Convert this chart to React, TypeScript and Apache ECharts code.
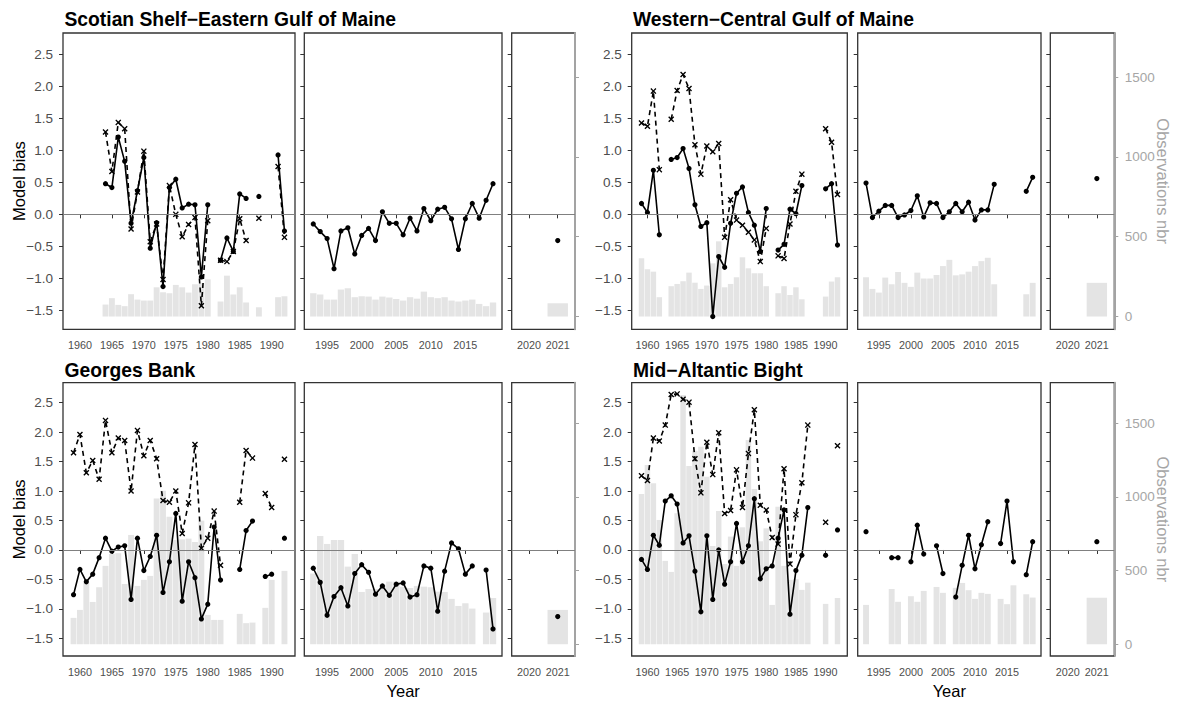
import { useEffect, useRef } from 'react';
import * as echarts from 'echarts';

type Num = number | null;

// Year sets for the three periods of the broken time axis
const years1 = [1959, 1960, 1961, 1962, 1963, 1964, 1965, 1966, 1967, 1968, 1969, 1970, 1971, 1972, 1973, 1974, 1975, 1976, 1977, 1978, 1979, 1980, 1981, 1982, 1983, 1984, 1985, 1986, 1987, 1988, 1989, 1990, 1991, 1992];
const years2 = [1993, 1994, 1995, 1996, 1997, 1998, 1999, 2000, 2001, 2002, 2003, 2004, 2005, 2006, 2007, 2008, 2009, 2010, 2011, 2012, 2013, 2014, 2015, 2016, 2017, 2018, 2019];
const years3 = [2021];

const xTicks1 = [1960, 1965, 1970, 1975, 1980, 1985, 1990];
const xTicks2 = [1995, 2000, 2005, 2010, 2015];
const xTicks3 = [2020, 2021];
const biasTicks = [-1.5, -1, -0.5, 0, 0.5, 1, 1.5, 2, 2.5];
const obsTicks = [0, 500, 1000, 1500];

// Scotian Shelf-Eastern Gulf of Maine
const ssBias1: Num[] = [null, null, null, null, null, 0.48, 0.42, 1.21, 0.83, -0.14, 0.37, 0.89, -0.53, -0.13, -1.13, 0.42, 0.55, 0.10, 0.16, 0.15, -0.98, 0.15, null, -0.72, -0.37, -0.58, 0.32, 0.25, null, 0.28, null, null, 0.93, -0.26];
const ssAlt1: Num[] = [null, null, null, null, null, 1.29, 0.67, 1.44, 1.34, -0.23, 0.35, 0.99, -0.43, -0.15, -1.02, 0.45, 0.00, -0.35, -0.16, -0.05, -1.43, -0.10, null, -0.72, -0.74, -0.58, -0.07, -0.41, null, -0.06, null, null, 0.75, -0.36];
const ssObs1: Num[] = [null, null, null, null, null, 75, 115, 73, 65, 140, 106, 100, 100, 183, 152, 146, 198, 183, 150, 202, 208, 233, null, 94, 256, 138, 183, 88, null, 58, null, null, 121, 127];
const ssBias2: Num[] = [-0.15, -0.27, -0.38, -0.85, -0.26, -0.21, -0.62, -0.33, -0.22, -0.41, 0.04, -0.14, -0.14, -0.32, -0.06, -0.26, 0.09, -0.10, 0.08, 0.11, -0.07, -0.55, -0.07, 0.17, -0.06, 0.22, 0.48];
const ssObs2: Num[] = [146, 138, 106, 106, 169, 177, 121, 127, 125, 106, 125, 119, 110, 100, 121, 112, 156, 121, 115, 121, 100, 94, 100, 106, 79, 65, 88];
const ssBias3: Num[] = [-0.41];
const ssObs3: Num[] = [83];

// Western-Central Gulf of Maine
const wcBias1: Num[] = [0.17, 0.03, 0.69, -0.32, null, 0.86, 0.89, 1.03, 0.72, 0.15, -0.19, -0.13, -1.60, -0.66, -0.83, -0.14, 0.33, 0.43, 0.03, -0.17, -0.58, 0.09, null, -0.56, -0.47, 0.08, 0.01, 0.45, null, null, null, 0.40, 0.48, -0.48];
const wcAlt1: Num[] = [1.43, 1.38, 1.93, 0.70, null, 1.49, 1.94, 2.19, 1.97, 1.09, 0.63, 1.07, 0.98, 1.11, -0.36, 0.23, -0.09, -0.17, -0.28, -0.40, -0.74, -0.22, null, -0.65, -0.69, -0.15, 0.36, 0.63, null, null, null, 1.34, 1.13, 0.31];
const wcObs1: Num[] = [365, 296, 281, 121, null, 190, 204, 221, 275, 212, 173, 194, 333, 471, 183, 204, 246, 371, 302, 271, 271, 190, null, 146, 190, 135, 183, 108, null, null, null, 125, 219, 246];
const wcBias2: Num[] = [0.49, -0.05, 0.05, 0.14, 0.14, -0.05, -0.01, 0.06, 0.29, -0.04, 0.18, 0.17, -0.05, 0.04, 0.17, 0.04, 0.19, -0.09, 0.07, 0.07, 0.47, null, null, null, null, 0.36, 0.58];
const wcObs2: Num[] = [246, 173, 150, 244, 202, 279, 211, 186, 275, 238, 238, 260, 316, 355, 258, 264, 281, 316, 347, 368, 202, null, null, null, null, 140, 211];
const wcBias3: Num[] = [0.56];
const wcObs3: Num[] = [211];

// Georges Bank
const gbBias1: Num[] = [-0.76, -0.33, -0.54, -0.41, -0.13, 0.20, -0.02, 0.05, 0.07, -0.84, 0.20, -0.35, -0.11, 0.25, -0.72, -0.20, 0.62, -0.87, -0.20, -0.47, -1.17, -0.92, 0.39, -0.51, null, null, -0.33, 0.33, 0.49, null, -0.45, -0.41, null, 0.20];
const gbAlt1: Num[] = [1.65, 1.96, 1.31, 1.52, 1.20, 2.20, 1.65, 1.90, 1.86, 1.00, 2.03, 1.60, 1.86, 1.55, 0.84, 0.81, 1.00, 0.28, 0.80, 1.79, 0.03, 0.20, 0.66, -0.26, null, null, 0.81, 1.69, 1.56, null, 0.96, 0.72, null, 1.54];
const gbObs1: Num[] = [179, 233, 418, 287, 387, 532, 613, 618, 409, 742, 396, 437, 464, 989, 1043, 866, 708, 712, 717, 694, 839, 199, 165, 165, null, null, 206, 143, 147, null, 247, 437, null, 498];
const gbBias2: Num[] = [-0.31, -0.55, -1.11, -0.79, -0.64, -0.95, -0.40, -0.25, -0.38, -0.75, -0.61, -0.77, -0.58, -0.56, -0.80, -0.76, -0.27, -0.31, -1.04, -0.36, 0.12, 0.02, -0.41, -0.27, null, -0.34, -1.34];
const gbObs2: Num[] = [480, 735, 681, 708, 708, 527, 613, 355, 375, 375, 403, 425, 425, 391, 382, 396, 391, 387, 357, 355, 308, 260, 278, 242, null, 215, 314];
const gbBias3: Num[] = [-1.13];
const gbObs3: Num[] = [233];

// Mid-Atlantic Bight
const mabBias1: Num[] = [-0.16, -0.33, 0.25, 0.08, 0.83, 0.92, 0.78, 0.12, 0.24, -0.36, -1.05, 0.24, -0.84, 0.00, -0.58, -0.20, 0.45, -0.20, 0.07, 0.87, -0.49, -0.32, -0.27, 0.20, 0.68, -1.09, -0.35, -0.09, 0.72, null, null, -0.09, null, 0.34];
const mabAlt1: Num[] = [1.26, 1.18, 1.90, 1.85, 2.12, 2.64, 2.65, 2.56, 2.51, 1.55, 0.97, 1.83, 1.28, 1.99, 0.62, 0.67, 1.36, 0.72, 1.64, 2.38, 0.76, 0.68, 0.21, 0.10, 1.38, -0.24, 0.60, 1.14, 2.12, null, null, 0.47, null, 1.77];
const mabObs1: Num[] = [1020, 1217, 1093, 844, 566, 491, 890, 1692, 1210, 1314, 1341, 1138, 667, 905, 545, 731, 532, 794, 1387, 1054, 699, 787, 267, 934, 532, 437, 441, 369, 418, null, null, 274, null, 314];
const mabBias2: Num[] = [0.31, null, null, null, -0.13, -0.13, null, -0.20, 0.42, -0.07, null, 0.07, -0.40, null, -0.80, -0.26, 0.25, -0.32, 0.09, 0.48, null, 0.11, 0.83, -0.20, null, -0.42, 0.14];
const mabObs2: Num[] = [267, null, null, null, 375, 288, null, 326, 288, 362, null, 389, 349, null, 383, 416, 367, 308, 349, 342, null, 308, 272, 400, null, 340, 317];
const mabBias3: Num[] = [0.14];
const mabObs3: Num[] = [315];

const FONT = "'Liberation Sans', Arial, Helvetica, sans-serif";
const Y_MIN = -1.8;
const Y_MAX = 2.84;
// secondary axis: observations = (bias + 1.6) * 400
const OBS_OFFSET = 1.6;
const OBS_SCALE = 400;
const OBS_MIN = (Y_MIN + OBS_OFFSET) * OBS_SCALE;
const OBS_MAX = (Y_MAX + OBS_OFFSET) * OBS_SCALE;

const X_RANGES = [
  [1957.35, 1993.65],
  [1991.7, 2020.3],
  [2019.4, 2021.6],
];
const X_TICKS = [xTicks1, xTicks2, xTicks3];
const YEARS = [years1, years2, years3];

// panel boxes (px) for the two columns and two rows of regions
const COL_X = [
  [63, 304.3, 511.7],
  [631.7, 857.7, 1050.3],
];
const COL_W = [
  [232, 197.7, 63.3],
  [215.6, 183.3, 64],
];
const ROW_TOP = [33, 382.7];
const ROW_H = [296.3, 273.3];

const REGIONS = [
  { title: 'Scotian Shelf\u2212Eastern Gulf of Maine', col: 0, row: 0, bias: [ssBias1, ssBias2, ssBias3], alt: ssAlt1, obs: [ssObs1, ssObs2, ssObs3] },
  { title: 'Western\u2212Central Gulf of Maine', col: 1, row: 0, bias: [wcBias1, wcBias2, wcBias3], alt: wcAlt1, obs: [wcObs1, wcObs2, wcObs3] },
  { title: 'Georges Bank', col: 0, row: 1, bias: [gbBias1, gbBias2, gbBias3], alt: gbAlt1, obs: [gbObs1, gbObs2, gbObs3] },
  { title: 'Mid\u2212Altantic Bight', col: 1, row: 1, bias: [mabBias1, mabBias2, mabBias3], alt: mabAlt1, obs: [mabObs1, mabObs2, mabObs3] },
];

const CROSS = 'path://M0,1.6L1.6,0L5,3.4L8.4,0L10,1.6L6.6,5L10,8.4L8.4,10L5,6.6L1.6,10L0,8.4L3.4,5Z';

function pairs(years: number[], vals: Num[]) {
  return years.map((y, i) => [y, vals[i] === null ? '-' : vals[i]]);
}

function fmtBias(v: number) {
  return (v < 0 ? '\u2212' : '') + Math.abs(v).toFixed(1);
}

function buildOption() {
  const grid: any[] = [];
  const xAxis: any[] = [];
  const yAxis: any[] = [];
  const series: any[] = [];
  const graphic: any[] = [];

  REGIONS.forEach((r, ri) => {
    for (let p = 0; p < 3; p++) {
      const k = ri * 3 + p;
      const width = COL_W[r.col][p];
      const span = X_RANGES[p][1] - X_RANGES[p][0];
      const pxPerYear = width / span;
      grid.push({
        left: COL_X[r.col][p],
        top: ROW_TOP[r.row],
        width,
        height: ROW_H[r.row],
        show: true,
        borderColor: '#333333',
        borderWidth: 1.3,
        backgroundColor: '#ffffff',
      });
      xAxis.push({
        type: 'value',
        gridIndex: k,
        min: X_RANGES[p][0],
        max: X_RANGES[p][1],
        axisLine: { show: false },
        splitLine: { show: false },
        axisTick: { show: true, customValues: X_TICKS[p], length: 4, lineStyle: { color: '#333333', width: 1 } },
        axisLabel: {
          customValues: X_TICKS[p],
          formatter: (v: number) => String(v),
          fontSize: 10.8,
          color: '#4d4d4d',
          margin: 10.5,
          fontFamily: FONT,
        },
      });
      yAxis.push({
        type: 'value',
        gridIndex: k,
        min: Y_MIN,
        max: Y_MAX,
        position: 'left',
        axisLine: { show: false },
        splitLine: { show: false },
        axisTick: { show: true, customValues: biasTicks, length: 4, lineStyle: { color: '#333333', width: 1 } },
        axisLabel: {
          show: p === 0,
          customValues: biasTicks,
          formatter: fmtBias,
          fontSize: 13.5,
          color: '#4d4d4d',
          margin: 10,
          fontFamily: FONT,
        },
      });
      yAxis.push({
        type: 'value',
        gridIndex: k,
        min: OBS_MIN,
        max: OBS_MAX,
        position: 'right',
        show: p === 2,
        axisLine: { show: true, lineStyle: { color: '#a3a3a3', width: 2 } },
        splitLine: { show: false },
        axisTick: { show: true, customValues: obsTicks, length: 4, lineStyle: { color: '#a3a3a3', width: 1 } },
        axisLabel: {
          show: p === 2 && r.col === 1,
          customValues: obsTicks,
          formatter: (v: number) => String(v),
          fontSize: 13.5,
          color: '#a6a6a6',
          margin: 10.5,
          fontFamily: FONT,
        },
      });

      series.push({
        type: 'bar',
        xAxisIndex: k,
        yAxisIndex: 2 * k + 1,
        data: pairs(YEARS[p], r.obs[p]),
        barWidth: p === 2 ? 20.4 : pxPerYear * 0.92,
        itemStyle: { color: '#e4e4e4' },
        silent: true,
        z: 1,
      });
      series.push({
        type: 'line',
        xAxisIndex: k,
        yAxisIndex: 2 * k,
        data: pairs(YEARS[p], r.bias[p]),
        symbol: 'circle',
        symbolSize: 5.2,
        connectNulls: false,
        lineStyle: { color: '#000000', width: 1.6 },
        itemStyle: { color: '#000000' },
        emphasis: { disabled: true },
        silent: true,
        z: 4,
        markLine: {
          silent: true,
          symbol: ['none', 'none'],
          label: { show: false },
          lineStyle: { color: '#808080', width: 1, type: 'solid' },
          emphasis: { disabled: true },
          data: [{ yAxis: 0 }],
        },
      });
      if (p === 0) {
        series.push({
          type: 'line',
          xAxisIndex: k,
          yAxisIndex: 2 * k,
          data: pairs(YEARS[p], r.alt),
          symbol: CROSS,
          symbolSize: 6,
          connectNulls: false,
          lineStyle: { color: '#000000', width: 1.6, type: [5, 4] },
          itemStyle: { color: '#000000' },
          emphasis: { disabled: true },
          silent: true,
          z: 3,
        });
      }
    }

    const titleX = r.col === 0 ? 64.5 : 633;
    const titleY = r.row === 0 ? 19.4 : 370;
    graphic.push({
      type: 'text',
      x: titleX,
      y: titleY,
      style: { text: r.title, font: `bold 19.3px ${FONT}`, fill: '#000000', textAlign: 'left', textVerticalAlign: 'middle' },
    });
  });

  const rowMid = [33 + 296.3 / 2, 382.7 + 273.3 / 2];
  rowMid.forEach((y) => {
    graphic.push({
      type: 'text',
      x: 19,
      y,
      rotation: Math.PI / 2,
      style: { text: 'Model bias', font: `16.5px ${FONT}`, fill: '#000000', textAlign: 'center', textVerticalAlign: 'middle' },
    });
    graphic.push({
      type: 'text',
      x: 1163,
      y,
      rotation: -Math.PI / 2,
      style: { text: 'Observations nbr', font: `16.5px ${FONT}`, fill: '#a6a6a6', textAlign: 'center', textVerticalAlign: 'middle' },
    });
  });
  [403.2, 949.3].forEach((x) => {
    graphic.push({
      type: 'text',
      x,
      y: 690.5,
      style: { text: 'Year', font: `16.5px ${FONT}`, fill: '#000000', textAlign: 'center', textVerticalAlign: 'middle' },
    });
  });

  return {
    animation: false,
    backgroundColor: '#ffffff',
    textStyle: { fontFamily: FONT },
    grid,
    xAxis,
    yAxis,
    series,
    graphic,
  };
}

export default function App() {
  const ref = useRef<HTMLDivElement>(null);
  useEffect(() => {
    if (!ref.current) return;
    const chart = echarts.init(ref.current, undefined, { renderer: 'svg' });
    chart.setOption(buildOption() as any);
    return () => chart.dispose();
  }, []);
  return <div ref={ref} style={{ position: 'absolute', left: 0, top: 0, width: 1178, height: 702 }} />;
}
